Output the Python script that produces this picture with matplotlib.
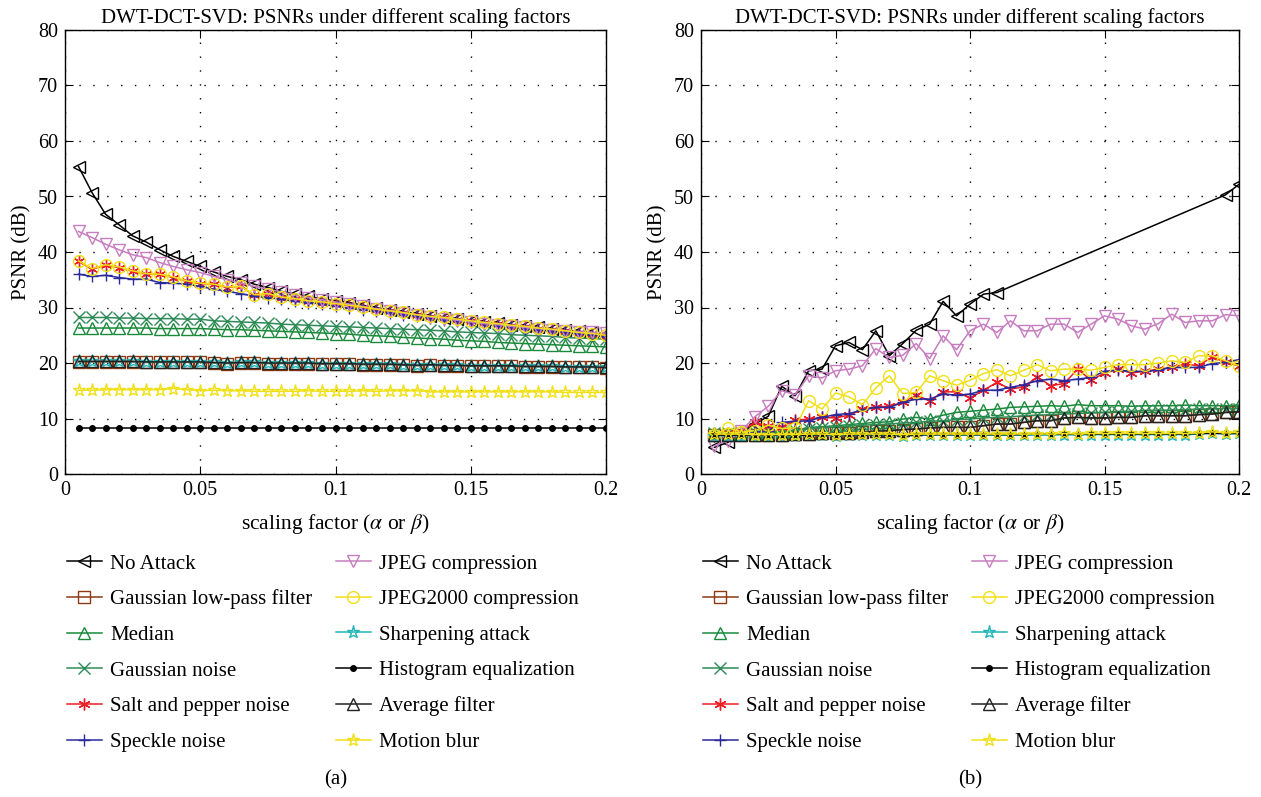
import numpy as np
import matplotlib
matplotlib.use("Agg")
import matplotlib.pyplot as plt

plt.rcParams['font.family'] = ['Liberation Serif', 'DejaVu Serif']
plt.rcParams['mathtext.fontset'] = 'stix'

# scaling factors 0.005 ... 0.2
alpha = [round(0.005 * i, 3) for i in range(1, 41)]

labels = ['No Attack', 'Gaussian low-pass filter', 'Median', 'Gaussian noise',
          'Salt and pepper noise', 'Speckle noise', 'JPEG compression',
          'JPEG2000 compression', 'Sharpening attack', 'Histogram equalization',
          'Average filter', 'Motion blur']

# ---- panel (a) ----
a_no_attack = [55.4, 50.7, 46.8, 44.9, 42.9, 41.8, 40.4, 39.2, 38.3, 37.4, 36.4, 35.6, 35.0, 34.2,
               33.6, 32.9, 32.4, 32.0, 31.5, 31.2, 30.9, 30.4, 30.0, 29.5, 29.2, 28.9, 28.5, 28.1,
               27.9, 27.6, 27.3, 27.2, 26.8, 26.6, 26.4, 26.1, 25.9, 25.7, 25.5, 25.2]
a_glp = [20.2, 20.2, 20.2, 20.2, 20.2, 20.1, 20.1, 20.1, 20.1, 20.1, 20.0, 19.9, 20.0, 20.0,
         19.9, 19.9, 19.9, 19.9, 19.8, 19.8, 19.8, 19.7, 19.7, 19.7, 19.6, 19.5, 19.6, 19.5,
         19.5, 19.4, 19.4, 19.4, 19.4, 19.3, 19.3, 19.3, 19.2, 19.2, 19.2, 19.1]
a_median = [26.3, 26.3, 26.3, 26.3, 26.3, 26.3, 26.2, 26.2, 26.2, 26.2, 26.1, 26.0, 26.0, 25.9,
            25.8, 25.7, 25.6, 25.5, 25.4, 25.3, 25.2, 25.0, 24.9, 24.8, 24.6, 24.5, 24.4, 24.3,
            24.1, 24.0, 23.9, 23.7, 23.6, 23.5, 23.4, 23.3, 23.2, 23.1, 23.0, 22.9]
a_gnoise = [28.2, 28.2, 28.2, 28.1, 28.1, 28.0, 28.0, 28.0, 27.9, 27.9, 27.6, 27.5, 27.4, 27.3,
            27.2, 27.0, 26.9, 26.8, 26.7, 26.6, 26.5, 26.4, 26.3, 26.2, 26.1, 26.0, 25.9, 25.8,
            25.6, 25.5, 25.4, 25.3, 25.1, 25.0, 24.9, 24.8, 24.6, 24.5, 24.4, 24.3]
a_salt = [38.3, 36.9, 37.6, 37.2, 36.5, 36.0, 36.0, 35.4, 34.7, 34.3, 34.2, 33.6, 33.8, 32.2,
          32.4, 31.8, 31.5, 31.1, 30.9, 30.6, 30.3, 30.0, 29.6, 29.3, 29.0, 28.6, 28.3, 28.1,
          27.8, 27.5, 27.2, 27.0, 26.7, 26.5, 26.2, 26.0, 25.7, 25.4, 25.2, 24.9]
a_speckle = [36.0, 35.6, 35.8, 35.4, 35.1, 35.1, 34.5, 34.4, 34.2, 33.8, 33.3, 32.9, 32.5, 32.0,
             31.8, 31.5, 31.1, 30.9, 30.6, 30.2, 29.9, 29.6, 29.3, 29.0, 28.7, 28.4, 28.1, 27.8,
             27.5, 27.3, 27.0, 26.7, 26.5, 26.2, 26.0, 25.7, 25.5, 25.2, 25.0, 24.7]
a_jpeg = [43.7, 42.6, 41.4, 40.4, 39.5, 39.0, 38.1, 37.4, 36.8, 36.3, 35.6, 35.0, 34.4, 33.8,
          33.3, 32.8, 32.3, 31.8, 31.4, 31.0, 30.6, 30.2, 29.8, 29.4, 29.0, 28.7, 28.3, 28.0,
          27.7, 27.4, 27.1, 26.9, 26.6, 26.4, 26.2, 26.0, 25.8, 25.6, 25.5, 25.4]
a_jpeg2000 = [38.4, 37.0, 37.7, 37.3, 36.6, 36.1, 36.0, 35.5, 34.8, 34.4, 34.2, 33.7, 33.8, 32.3,
              32.5, 31.9, 31.6, 31.2, 31.0, 30.7, 30.4, 30.1, 29.7, 29.4, 29.1, 28.7, 28.4, 28.2,
              27.9, 27.6, 27.3, 27.1, 26.8, 26.6, 26.3, 26.1, 25.8, 25.5, 25.3, 25.0]
a_sharpen = [20.3, 20.3, 20.3, 20.3, 20.3, 20.2, 20.2, 20.2, 20.2, 20.2, 20.1, 20.0, 20.1, 20.1,
             20.0, 20.0, 20.0, 20.0, 19.9, 19.9, 19.9, 19.8, 19.8, 19.8, 19.7, 19.6, 19.7, 19.6,
             19.6, 19.5, 19.5, 19.5, 19.5, 19.4, 19.4, 19.4, 19.3, 19.3, 19.3, 19.2]
a_hist = [8.3] * 40
a_average = [20.3, 20.3, 20.3, 20.3, 20.3, 20.2, 20.2, 20.2, 20.2, 20.2, 20.1, 20.0, 20.1, 20.1,
             20.0, 20.0, 20.0, 20.0, 19.9, 19.9, 19.9, 19.8, 19.8, 19.8, 19.7, 19.6, 19.7, 19.6,
             19.6, 19.5, 19.5, 19.5, 19.5, 19.4, 19.4, 19.4, 19.3, 19.3, 19.3, 19.2]
a_motion = [15.1, 15.1, 15.2, 15.2, 15.2, 15.2, 15.2, 15.4, 15.2, 15.0, 15.1, 15.0, 15.0, 14.9,
            14.9, 14.9, 14.9, 15.0, 14.9, 14.9, 14.9, 15.0, 14.9, 15.0, 15.0, 15.0, 14.8, 14.8,
            14.8, 14.8, 14.8, 14.8, 14.8, 14.8, 14.8, 14.8, 14.7, 14.7, 14.7, 14.7]

# ---- panel (b) ----
b_no_attack_x = alpha[:22] + alpha[38:]
b_no_attack = [4.8, 5.7, 7.5, 9.0, 10.4, 15.8, 14.1, 18.6, 18.9, 23.1, 23.7, 22.4, 25.8, 21.3,
               23.5, 25.9, 27.0, 31.1, 28.5, 30.6, 32.4, 32.7, 50.3, 52.2]
b_glp = [7.0, 7.0, 7.0, 7.0, 7.1, 7.1, 7.2, 7.2, 7.3, 7.3, 7.4, 7.5, 7.7, 7.8, 8.0, 8.1, 8.3, 8.4,
         8.4, 8.4, 8.7, 9.0, 9.0, 9.3, 9.6, 9.6, 10.1, 10.2, 10.1, 10.1, 10.2, 10.2, 10.5, 10.5,
         10.5, 10.5, 10.7, 10.8, 11.1, 11.2]
b_median = [7.3, 7.2, 7.2, 7.3, 7.4, 7.5, 7.8, 8.4, 8.5, 8.7, 8.9, 9.1, 9.3, 9.4, 9.9, 10.2, 9.9,
            10.6, 11.1, 11.3, 11.5, 11.7, 12.0, 12.1, 12.2, 12.3, 12.2, 12.5, 12.3, 12.3, 12.3,
            12.2, 12.3, 12.3, 12.3, 12.4, 12.3, 12.3, 12.3, 12.4]
b_gnoise = [7.3, 7.3, 7.4, 7.5, 7.6, 7.7, 7.9, 8.1, 8.3, 8.5, 8.6, 8.8, 8.9, 9.0, 9.2, 9.3, 9.5,
            9.6, 9.8, 9.9, 10.1, 10.2, 10.3, 10.5, 10.6, 10.7, 10.8, 10.9, 11.0, 11.1, 11.2, 11.3,
            11.4, 11.5, 11.5, 11.6, 11.7, 11.7, 11.8, 11.8]
b_salt = [6.8, 7.3, 7.8, 9.3, 8.6, 8.5, 9.7, 9.9, 10.2, 10.1, 10.6, 11.7, 12.1, 12.2, 12.9, 14.2,
          13.2, 14.8, 14.8, 13.7, 15.1, 16.5, 15.3, 15.7, 17.5, 15.9, 16.3, 18.9, 16.9, 18.2,
          18.9, 18.2, 18.5, 18.9, 19.2, 19.8, 19.5, 21.1, 20.1, 19.5]
b_speckle = [6.8, 7.0, 7.3, 7.5, 7.8, 9.3, 9.5, 9.6, 10.2, 10.7, 10.9, 11.5, 12.0, 12.0, 12.9,
             13.5, 13.5, 14.4, 14.2, 14.4, 15.1, 15.1, 15.6, 16.1, 16.8, 17.1, 16.8, 17.1, 17.4,
             18.5, 18.7, 18.5, 18.5, 18.7, 19.2, 19.2, 19.2, 19.9, 20.1, 20.6]
b_jpeg = [5.1, 6.0, 7.8, 10.3, 12.2, 15.0, 14.3, 17.7, 17.3, 18.6, 18.9, 19.5, 22.6, 21.0, 21.4,
          23.5, 20.8, 24.9, 22.4, 25.8, 27.0, 25.5, 27.6, 25.8, 25.8, 27.0, 27.0, 25.5, 27.0,
          28.5, 27.9, 26.7, 26.1, 27.1, 28.8, 27.3, 27.6, 27.6, 28.7, 28.5]
b_jpeg2000 = [7.0, 8.3, 7.6, 7.8, 8.8, 8.2, 8.3, 13.2, 11.7, 14.6, 13.9, 12.5, 15.5, 17.7, 14.5,
              14.7, 17.7, 16.8, 16.0, 16.9, 18.1, 18.8, 17.7, 18.7, 19.7, 18.6, 18.9, 18.9, 18.7,
              19.2, 19.7, 19.7, 19.7, 20.0, 20.4, 20.1, 21.3, 21.3, 20.4, 19.5]
b_sharpen = [6.9, 6.9, 6.9, 6.9, 6.9, 6.9, 6.9, 7.0, 7.0, 6.9, 7.0, 7.0, 7.0, 7.0, 6.9, 7.0, 7.0,
             7.0, 7.0, 7.0, 7.0, 7.0, 7.0, 7.0, 7.0, 7.0, 7.1, 7.0, 7.1, 7.1, 7.1, 7.1, 7.1, 7.1,
             7.1, 7.1, 7.2, 7.4, 7.2, 7.3]
b_hist = [7.0, 7.0, 7.0, 7.0, 7.0, 7.0, 7.0, 7.0, 7.1, 7.1, 7.1, 7.1, 7.1, 7.1, 7.1, 7.1, 7.1,
          7.1, 7.1, 7.1, 7.1, 7.1, 7.1, 7.1, 7.2, 7.2, 7.2, 7.2, 7.2, 7.2, 7.2, 7.2, 7.2, 7.2,
          7.2, 7.2, 7.3, 7.3, 7.3, 7.3]
b_average = [7.0, 7.0, 7.0, 7.0, 7.1, 7.1, 7.2, 7.2, 7.3, 7.3, 7.4, 7.5, 7.7, 7.8, 8.0, 8.1, 8.3,
             8.4, 8.4, 8.4, 8.7, 9.0, 9.0, 9.3, 9.6, 9.6, 10.1, 10.2, 10.1, 10.1, 10.2, 10.2,
             10.5, 10.5, 10.5, 10.5, 10.7, 10.8, 11.1, 11.2]
b_motion = [7.2, 7.2, 7.2, 7.1, 7.1, 7.1, 7.1, 7.2, 7.2, 7.1, 7.2, 7.2, 7.2, 7.2, 7.1, 7.2, 7.2,
            7.2, 7.2, 7.2, 7.2, 7.2, 7.2, 7.2, 7.2, 7.2, 7.3, 7.2, 7.3, 7.3, 7.3, 7.3, 7.3, 7.3,
            7.3, 7.3, 7.4, 7.6, 7.4, 7.5]

# marker, colour, filled
styles = [('<', 'black', False), ('s', '#8c3a14', False), ('^', '#1a8a3a', False),
          ('x', '#2e8b57', False), ((6, 2, 0), '#ee1c25', False), ('+', '#2a2a9a', False),
          ('v', '#c77dc0', False), ('o', '#f0e018', False), ('*', '#22b5b5', False),
          ('o', 'black', True), ('^', '#222222', False), ('*', '#f0e018', False)]

panels = [
    ([alpha] * 12,
     [a_no_attack, a_glp, a_median, a_gnoise, a_salt, a_speckle, a_jpeg, a_jpeg2000,
      a_sharpen, a_hist, a_average, a_motion], '(a)'),
    ([b_no_attack_x] + [alpha] * 11,
     [b_no_attack, b_glp, b_median, b_gnoise, b_salt, b_speckle, b_jpeg, b_jpeg2000,
      b_sharpen, b_hist, b_average, b_motion], '(b)'),
]

fig = plt.figure(figsize=(12.61, 7.97), dpi=100)
W, H = 1261, 797
ax_boxes = [(65, 30, 606, 474), (701, 30, 1239, 474)]

for (xs, ys, tag), (x0, y0, x1, y1) in zip(panels, ax_boxes):
    ax = fig.add_axes([x0 / W, 1 - y1 / H, (x1 - x0) / W, (y1 - y0) / H])
    for xv, yv, lab, (mk, col, filled) in zip(xs, ys, labels, styles):
        ms = 4 if filled else 8.5
        if mk == '*':
            ms = 9.5
        ax.plot(xv, yv, marker=mk, color=col, label=lab, linewidth=1.1,
                markersize=ms, markerfacecolor=col if filled else 'none',
                markeredgewidth=1.0)
    ax.set_xlim(0, 0.2)
    ax.set_ylim(0, 80)
    ax.set_xticks([0, 0.05, 0.1, 0.15, 0.2])
    ax.set_xticklabels(['0', '0.05', '0.1', '0.15', '0.2'])
    ax.set_yticks(range(0, 81, 10))
    ax.grid(True, linestyle=(0, (1, 9)), color='black', linewidth=1.0)
    ax.tick_params(direction='in', top=True, right=True, labelsize=14.5, length=6, pad=5)
    for s in ax.spines.values():
        s.set_linewidth(1.0)
    ax.set_title('DWT-DCT-SVD: PSNRs under different scaling factors', fontsize=15, pad=5)
    ax.set_xlabel(r'scaling factor ($\alpha$ or $\beta$)', fontsize=15.5, labelpad=9)
    ax.set_ylabel('PSNR (dB)', fontsize=15, labelpad=5)
    leg = ax.legend(loc='upper left', bbox_to_anchor=(0.003, -0.18), ncol=2, frameon=False,
                    fontsize=15, handlelength=1.7, handletextpad=0.4, columnspacing=1.1,
                    labelspacing=0.77, borderaxespad=0, borderpad=0)
    fig.text((x0 + x1) / 2 / W, 1 - 780 / H, tag, ha='center', va='center', fontsize=15)

fig.savefig('out.png', dpi=100)
